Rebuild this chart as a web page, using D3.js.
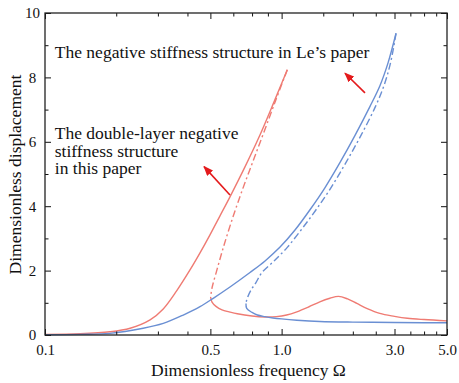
<!DOCTYPE html>
<html>
<head>
<meta charset="utf-8">
<script src="https://cdn.jsdelivr.net/npm/d3@7"></script>
<style>
    body { margin: 0; background: #fff; }
    svg { display: block; font-family: "Liberation Serif", "Times New Roman", serif; }
</style>
</head>
<body>
<svg id="chart"></svg>
<script>
// [frequency, displacement] pairs
const redUpper = [
    [0.10, 0.02], [0.1406, 0.04], [0.188, 0.10], [0.229, 0.21], [0.278, 0.47],
    [0.316, 0.81], [0.36, 1.37], [0.41, 2.02], [0.452, 2.55], [0.498, 3.11],
    [0.549, 3.70], [0.605, 4.29], [0.70, 5.22], [0.81, 6.21], [0.929, 7.24],
    [1.057, 8.24]
];
const redUnstable = [
    [1.057, 8.24], [0.942, 7.27], [0.839, 6.27], [0.752, 5.34], [0.675, 4.41],
    [0.611, 3.48], [0.563, 2.64], [0.530, 1.96], [0.509, 1.49], [0.501, 1.18]
];
const redLower = [
    [0.501, 1.18], [0.508, 1.02], [0.528, 0.89], [0.56, 0.78], [0.60, 0.72],
    [0.65, 0.66], [0.75, 0.59], [0.85, 0.56], [0.95, 0.57], [1.05, 0.62],
    [1.16, 0.72], [1.30, 0.87], [1.45, 1.03], [1.60, 1.14], [1.74, 1.20],
    [1.90, 1.12], [2.08, 0.98], [2.30, 0.82], [2.60, 0.67], [3.00, 0.58],
    [3.40, 0.52], [4.00, 0.48], [5.00, 0.44]
];
const blueUpper = [
    [0.10, 0.01], [0.14, 0.02], [0.188, 0.05], [0.26, 0.21], [0.316, 0.36],
    [0.384, 0.62], [0.452, 0.88], [0.514, 1.14], [0.605, 1.49], [0.735, 1.94],
    [0.851, 2.30], [0.985, 2.73], [1.139, 3.26], [1.318, 3.89], [1.526, 4.58],
    [1.766, 5.36], [2.043, 6.20], [2.364, 7.10], [2.606, 7.75], [2.817, 8.45],
    [3.045, 9.37]
];
const blueUnstable = [
    [3.045, 9.37], [2.886, 8.45], [2.709, 7.75], [2.494, 7.10], [2.165, 6.20],
    [1.872, 5.36], [1.618, 4.58], [1.398, 3.89], [1.214, 3.28], [1.059, 2.73],
    [0.929, 2.30], [0.826, 1.94], [0.779, 1.63], [0.743, 1.40], [0.721, 1.20],
    [0.711, 1.07], [0.707, 0.98]
];
const blueLower = [
    [0.707, 0.98], [0.712, 0.83], [0.75, 0.70], [0.79, 0.62], [0.85, 0.57],
    [0.92, 0.53], [1.00, 0.50], [1.16, 0.46], [1.45, 0.42], [2.00, 0.40],
    [3.00, 0.39], [4.00, 0.38], [5.00, 0.38]
];

const xMajorTicks = [0.1, 0.5, 1.0, 3.0, 5.0];
const xTickLabels = ["0.1", "0.5", "1.0", "3.0", "5.0"];
const xMinorTicks = [0.2, 0.3, 0.4, 0.625, 0.75, 0.875, 1.5, 2.0, 2.5, 3.5, 4.0, 4.5];
const yMajorTicks = [0, 2, 4, 6, 8, 10];
const yMinorTicks = [1, 3, 5, 7, 9];

const xTitle = "Dimensionless frequency Ω";
const yTitle = "Dimensionless displacement";
const noteLe = "The negative stiffness structure in Le’s paper";
const noteThis = ["The double-layer negative", "stiffness structure", "in this paper"];
// arrows: [from, to] in data units
const arrows = [
    [[0.605, 4.35], [0.470, 5.23]],
    [[2.251, 7.52], [1.853, 8.13]]
];

const W = 459, H = 383;
const margin = { top: 13, right: 12, bottom: 48, left: 45 };
const width = W - margin.left - margin.right;
const height = H - margin.top - margin.bottom;

const RED = "#ef7b73", BLUE = "#6a8fd3", ARROW = "#e41a1c";
const FONT = "'Liberation Serif', 'Times New Roman', serif";

const svg = d3.select("#chart")
    .attr("width", W)
    .attr("height", H)
    .attr("viewBox", [0, 0, W, H]);

svg.append("defs").append("marker")
    .attr("id", "head")
    .attr("markerUnits", "userSpaceOnUse")
    .attr("viewBox", "0 0 10 8")
    .attr("refX", 9)
    .attr("refY", 4)
    .attr("markerWidth", 10)
    .attr("markerHeight", 8)
    .attr("orient", "auto")
    .append("path")
    .attr("d", "M0,0 L10,4 L0,8 Z")
    .attr("fill", ARROW);

const g = svg.append("g").attr("transform", `translate(${margin.left},${margin.top})`);

const x = d3.scaleLog().domain([0.1, 5]).range([0, width]);
const y = d3.scaleLinear().domain([0, 10]).range([height, 0]);

const line = d3.line()
    .x(d => x(d[0]))
    .y(d => y(d[1]))
    .curve(d3.curveCatmullRom.alpha(0.5));

// curves: solid = stable branches, dash-dot = unstable
const curves = [
    { data: redUpper, color: RED, dash: null },
    { data: redUnstable, color: RED, dash: "7,3,2,3" },
    { data: redLower, color: RED, dash: null },
    { data: blueUpper, color: BLUE, dash: null },
    { data: blueUnstable, color: BLUE, dash: "7,3,2,3" },
    { data: blueLower, color: BLUE, dash: null }
];
g.selectAll("path.curve")
    .data(curves)
    .join("path")
    .attr("class", "curve")
    .attr("fill", "none")
    .attr("stroke", d => d.color)
    .attr("stroke-width", 1.4)
    .attr("stroke-dasharray", d => d.dash)
    .attr("d", d => line(d.data));

// axes, ticks pointing inward on all four sides
function styleAxis(sel) {
    sel.attr("font-family", FONT).attr("font-size", null);
    sel.select(".domain").remove();
    sel.selectAll(".tick line").attr("stroke", "#111").attr("stroke-width", 1);
    sel.selectAll(".tick text")
        .attr("fill", "#111")
        .style("font-size", "15px");
}

g.append("g")
    .attr("transform", `translate(0,${height})`)
    .call(d3.axisBottom(x).tickValues(xMajorTicks)
        .tickFormat(d => xTickLabels[xMajorTicks.indexOf(d)])
        .tickSizeInner(-6).tickSizeOuter(0).tickPadding(9))
    .call(styleAxis);
g.append("g")
    .attr("transform", `translate(0,${height})`)
    .call(d3.axisBottom(x).tickValues(xMinorTicks).tickFormat("").tickSizeInner(-3.5).tickSizeOuter(0))
    .call(styleAxis);
g.append("g")
    .call(d3.axisTop(x).tickValues(xMajorTicks).tickFormat("").tickSizeInner(-6).tickSizeOuter(0))
    .call(styleAxis);
g.append("g")
    .call(d3.axisTop(x).tickValues(xMinorTicks).tickFormat("").tickSizeInner(-3.5).tickSizeOuter(0))
    .call(styleAxis);

const yAxisGroup = g.append("g")
    .call(d3.axisLeft(y).tickValues(yMajorTicks).tickFormat(d3.format("d"))
        .tickSizeInner(-6).tickSizeOuter(0))
    .call(styleAxis);
yAxisGroup.selectAll(".tick text")
    .attr("x", -12.5)
    .attr("text-anchor", "middle");
g.append("g")
    .call(d3.axisLeft(y).tickValues(yMinorTicks).tickFormat("").tickSizeInner(-3.5).tickSizeOuter(0))
    .call(styleAxis);
g.append("g")
    .attr("transform", `translate(${width},0)`)
    .call(d3.axisRight(y).tickValues(yMajorTicks).tickFormat("").tickSizeInner(-6).tickSizeOuter(0))
    .call(styleAxis);
g.append("g")
    .attr("transform", `translate(${width},0)`)
    .call(d3.axisRight(y).tickValues(yMinorTicks).tickFormat("").tickSizeInner(-3.5).tickSizeOuter(0))
    .call(styleAxis);

// frame
g.append("rect")
    .attr("width", width)
    .attr("height", height)
    .attr("fill", "none")
    .attr("stroke", "#222")
    .attr("stroke-width", 1.3);

// axis titles
svg.append("text")
    .attr("x", 248.5)
    .attr("y", 376)
    .attr("text-anchor", "middle")
    .attr("fill", "#111")
    .attr("font-family", FONT)
    .style("font-size", "17.5px")
    .text(xTitle);
svg.append("text")
    .attr("transform", "translate(21,174.5) rotate(-90)")
    .attr("text-anchor", "middle")
    .attr("fill", "#111")
    .attr("font-family", FONT)
    .style("font-size", "17.5px")
    .text(yTitle);

// annotations
g.append("text")
    .attr("x", x(0.110))
    .attr("y", y(8.59))
    .attr("fill", "#111")
    .attr("font-family", FONT)
    .style("font-size", "17.5px")
    .text(noteLe);
g.append("text")
    .attr("fill", "#111")
    .attr("font-family", FONT)
    .style("font-size", "17.5px")
    .selectAll("tspan")
    .data(noteThis)
    .join("tspan")
    .attr("x", x(0.110))
    .attr("y", (d, i) => y(6.08) + i * 17.4)
    .text(d => d);

g.selectAll("line.arrow")
    .data(arrows)
    .join("line")
    .attr("class", "arrow")
    .attr("x1", d => x(d[0][0]))
    .attr("y1", d => y(d[0][1]))
    .attr("x2", d => x(d[1][0]))
    .attr("y2", d => y(d[1][1]))
    .attr("stroke", ARROW)
    .attr("stroke-width", 1.6)
    .attr("marker-end", "url(#head)");
</script>
</body>
</html>
